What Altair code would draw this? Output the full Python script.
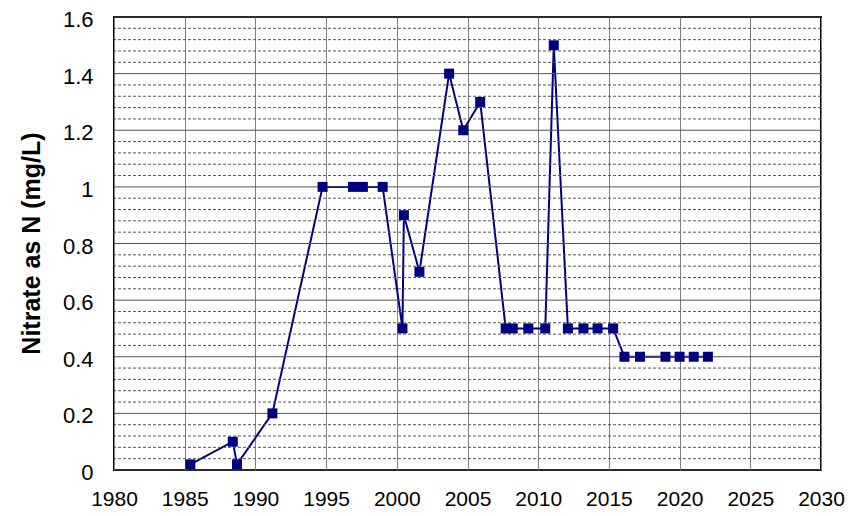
import altair as alt
import pandas as pd

years = [1985.4, 1988.4, 1988.7, 1991.2, 1994.75, 1996.9, 1997.6, 1999.0,
         2000.4, 2000.5, 2001.6, 2003.7, 2004.7, 2005.9, 2007.7, 2008.2,
         2009.3, 2010.5, 2011.1, 2012.1, 2013.2, 2014.2, 2015.3, 2016.1,
         2017.2, 2019.0, 2020.0, 2021.0, 2022.0]
nitrate = [0.02, 0.1, 0.02, 0.2, 1.0, 1.0, 1.0, 1.0,
           0.5, 0.9, 0.7, 1.4, 1.2, 1.3, 0.5, 0.5,
           0.5, 0.5, 1.5, 0.5, 0.5, 0.5, 0.5, 0.4,
           0.4, 0.4, 0.4, 0.4, 0.4]

x_ticks = [1980, 1985, 1990, 1995, 2000, 2005, 2010, 2015, 2020, 2025, 2030]
y_major = [0, 0.2, 0.4, 0.6, 0.8, 1.0, 1.2, 1.4, 1.6]
y_minor = [0.04, 0.08, 0.12, 0.16, 0.24, 0.28, 0.32, 0.36, 0.44, 0.48,
           0.52, 0.56, 0.64, 0.68, 0.72, 0.76, 0.84, 0.88, 0.92, 0.96,
           1.04, 1.08, 1.12, 1.16, 1.24, 1.28, 1.32, 1.36, 1.44, 1.48,
           1.52, 1.56]

df = pd.DataFrame({"year": years, "nitrate": nitrate, "i": list(range(len(years)))})
minor_df = pd.DataFrame({"v": y_minor})
major_df = pd.DataFrame({"v": y_major})

xscale = alt.Scale(domain=[1980, 2030], nice=False, zero=False)
yscale = alt.Scale(domain=[0, 1.6], nice=False)

x_enc = alt.X(
    "year:Q",
    scale=xscale,
    axis=alt.Axis(
        values=x_ticks, format="d", title=None, ticks=False, tickSize=0,
        labelFontSize=21, labelPadding=18, labelColor="black",
        labelFont="Liberation Sans", domain=False, labelFlush=False,
        labelOverlap=False,
        grid=True, gridColor="#808080", gridWidth=1,
    ),
)
y_enc = alt.Y(
    "nitrate:Q",
    scale=yscale,
    axis=alt.Axis(
        values=y_major, title="Nitrate as N (mg/L)", ticks=False, tickSize=0,
        labelExpr="format(datum.value, '.1~f')",
        labelFontSize=22, labelPadding=21, labelOffset=2.5, labelColor="black",
        labelFont="Liberation Sans", domain=False, labelOverlap=False,
        labelFlush=False, grid=False,
        titleFont="Liberation Sans", titleFontSize=25, titleFontWeight="bold",
        titleColor="black", titleAngle=-90, titleX=-83, titleY=226,
        titleAlign="center", titleBaseline="middle",
    ),
)

minor = alt.Chart(minor_df).mark_rule(
    color="#555555", strokeWidth=1, strokeDash=[3, 2]
).encode(y=alt.Y("v:Q", scale=yscale))
major_rules = alt.Chart(major_df).mark_rule(
    color="#555555", strokeWidth=1
).encode(y=alt.Y("v:Q", scale=yscale))

line = alt.Chart(df).mark_line(color="#000080", strokeWidth=2).encode(
    x=x_enc, y=y_enc, order="i:Q"
)
points = alt.Chart(df).mark_point(
    shape="square", filled=True, size=100, color="#000080", opacity=1
).encode(x="year:Q", y="nitrate:Q")

chart = alt.layer(line, minor, major_rules, points).properties(
    width=707, height=453,
    autosize=alt.AutoSizeParams(type="none"),
    padding={"left": 106, "top": 9, "right": 30, "bottom": 40},
).configure_view(stroke="black", strokeWidth=2)

chart.save("out.html", embed_options={"renderer": "svg", "actions": False})
